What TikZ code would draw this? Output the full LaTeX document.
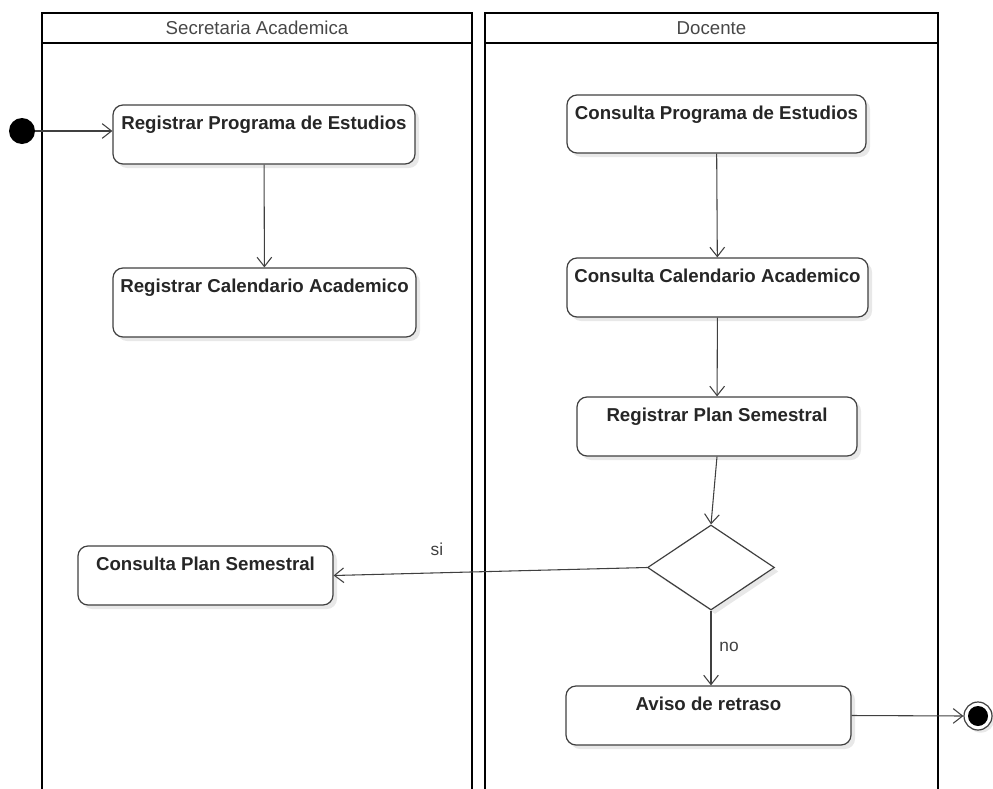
\documentclass[tikz,border=0pt]{standalone}
\usepackage{fontspec}
\setmainfont{Liberation Sans}
\usetikzlibrary{arrows.meta,shapes.geometric,fit,shadows}
\begin{document}
\begin{tikzpicture}[x=0.75pt,y=-0.75pt,
  lane/.style={draw=black,line width=1.6pt},
  lanetitle/.style={font=\fontsize{14pt}{16pt}\selectfont,text=black!72},
  act/.style={draw=black!75,line width=0.9pt,rounded corners=7.5pt,fill=white,inner sep=0pt,
    drop shadow={shadow xshift=3pt,shadow yshift=-3pt,fill=black!9,opacity=1}},
  actlbl/.style={anchor=north,yshift=-8.5pt,inner sep=0pt,font=\bfseries\fontsize{14pt}{16pt}\selectfont,text=black!85},
  flow/.style={draw=black!75,line width=0.8pt,-{Straight Barb[length=7pt,width=11pt,line width=0.8pt]}},
  guard/.style={font=\fontsize{13pt}{15pt}\selectfont,text=black!75}
]
\useasboundingbox (0,0) rectangle (993,789);

% swimlanes
\draw[lane] (42,789) -- (42,13) -- (472,13) -- (472,789);
\draw[lane] (42,43) -- (472,43);
\node[lanetitle] (t1) at (257,28) {Secretaria Academica};
\draw[lane] (485,789) -- (485,13) -- (938,13) -- (938,789);
\draw[lane] (485,43) -- (938,43);
\node[lanetitle] (t2) at (711.5,28) {Docente};

% initial node
\node[circle,fill=black,minimum size=19.5pt,inner sep=0pt] (init) at (22,131) {};

% activities
\node[act,fit={(113,105)(415,164)},label={[actlbl]north:Registrar Programa de Estudios}] (rp) {};
\node[act,fit={(113,268)(416,337)},label={[actlbl]north:Registrar Calendario Academico}] (rc) {};
\node[act,fit={(78,546)(333,605)},label={[actlbl]north:Consulta Plan Semestral}] (cps) {};
\node[act,fit={(567,95)(866,153)},label={[actlbl]north:Consulta Programa de Estudios}] (cp) {};
\node[act,fit={(567,258)(868,317)},label={[actlbl]north:Consulta Calendario Academico}] (cc) {};
\node[act,fit={(577,397)(857,456)},label={[actlbl]north:Registrar Plan Semestral}] (rps) {};
\node[act,fit={(566,686)(851,745)},label={[actlbl]north:Aviso de retraso}] (av) {};

% decision
\node[diamond,draw=black!75,line width=0.9pt,fill=white,inner sep=0pt,
  minimum width=95.25pt,minimum height=63.75pt,
  drop shadow={shadow xshift=3pt,shadow yshift=-3pt,fill=black!9,opacity=1}] (dec) at (711,567.5) {};

% final node
\node[circle,draw=black!75,line width=0.9pt,fill=white,minimum size=21pt,inner sep=0pt,
  drop shadow={shadow xshift=2pt,shadow yshift=-2pt,fill=black!9,opacity=1},
  path picture={\fill[black] (path picture bounding box.center) circle (7.5pt);}] (fin) at (978,716) {};

% flows
\draw[flow] (init) -- (init -| rp.west);
\draw[flow] (rp) -- (rc);
\draw[flow] (cp) -- (cc);
\draw[flow] (cc) -- (rps);
\draw[flow] (rps.south) -- (dec.north);
\draw[flow] (dec.west) -- (cps.east);
\draw[flow] (dec.south) -- (dec.south |- av.north);
\draw[flow] (av.east) -- (fin.west);

% guards
\node[guard] (gsi) at (437,549) {si};
\node[guard] (gno) at (729,647) {no};
\end{tikzpicture}
\end{document}
